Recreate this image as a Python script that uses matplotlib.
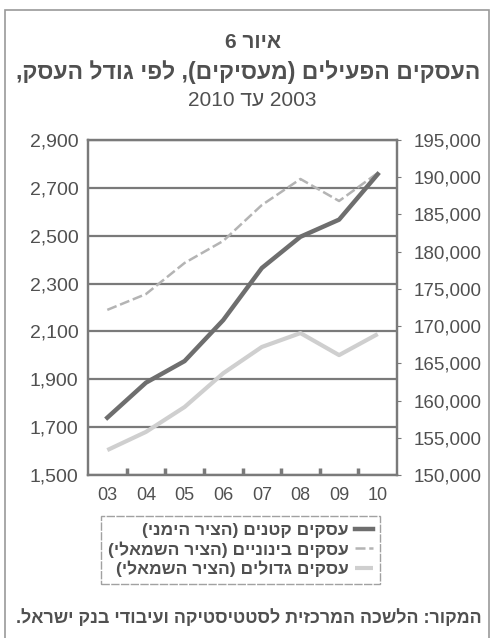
import re
import matplotlib
matplotlib.use('Agg')
import matplotlib.pyplot as plt
from matplotlib.ticker import FuncFormatter
from matplotlib.patches import Rectangle

plt.rcParams['font.family'] = ['Liberation Sans', 'DejaVu Sans']

# data
years = ['03', '04', '05', '06', '07', '08', '09', '10']
small = [157700, 162400, 165300, 170800, 177800, 182000, 184300, 190400]   # right axis
medium = [2190, 2256, 2386, 2478, 2628, 2737, 2645, 2762]                  # left axis
large = [1604, 1680, 1784, 1925, 2035, 2093, 2001, 2089]                   # left axis
left_ticks = list(range(1500, 3000, 200))
right_ticks = list(range(150000, 200000, 5000))

title1 = 'איור 6'
title2 = 'העסקים הפעילים (מעסיקים), לפי גודל העסק,'
title3 = '2003 עד 2010'
labels = ['עסקים קטנים (הציר הימני)',
          'עסקים בינוניים (הציר השמאלי)',
          'עסקים גדולים (הציר השמאלי)']
source = 'המקור: הלשכה המרכזית לסטטיסטיקה ועיבודי בנק ישראל.'


def heb(s):
    # matplotlib has no bidi, so turn logical order into visual order
    t = s[::-1].translate(str.maketrans('()', ')('))
    return re.sub(r'\d+', lambda m: m.group(0)[::-1], t)


txt = '#505050'
grid = '#7a7a7a'

fig = plt.figure(figsize=(4.91, 6.38), dpi=100)
ax = fig.add_axes([0.1792, 0.2555, 0.6294, 0.5251])
ax2 = ax.twinx()

x = list(range(len(years)))
ax.plot(x, large, color='#cfcfcf', lw=3, solid_capstyle='butt', label=heb(labels[2]))
ax.plot(x, medium, color='#b4b4b4', lw=1.8, ls=(0, (4, 1.5)), label=heb(labels[1]))
ax2.plot(x, small, color='#6e6e6e', lw=3.2, label=heb(labels[0]))

ax.set_xlim(-0.5, len(years) - 0.5)
ax.set_ylim(1500, 2900)
ax2.set_ylim(150000, 195000)
ax.set_yticks(left_ticks)
ax2.set_yticks(right_ticks)
ax.yaxis.set_major_formatter(FuncFormatter(lambda v, p: f'{v:,.0f}'))
ax2.yaxis.set_major_formatter(FuncFormatter(lambda v, p: f'{v:,.0f}'))
ax.set_xticks(x)
ax.set_xticklabels(years)
ax.set_xticks([i + 0.5 for i in x[:-1]], minor=True)

ax.yaxis.grid(True, color=grid, lw=1.6)
ax.set_axisbelow(True)
for a in (ax, ax2):
    for s in a.spines.values():
        s.set_color(grid)
        s.set_linewidth(1.6)

ax.tick_params(axis='y', length=0, pad=7, labelsize=14, labelcolor=txt)
ax2.tick_params(axis='y', length=3, color=grid, pad=9, labelsize=13.5, labelcolor=txt)
ax.tick_params(axis='x', which='major', length=0, pad=9, labelsize=13, labelcolor=txt)
ax.tick_params(axis='x', which='minor', length=5, width=2.5, direction='in', color=grid)

fig.text(0.515, 0.934, heb(title1), ha='center', va='center', fontsize=15,
         fontweight='bold', color=txt)
fig.text(0.505, 0.887, heb(title2), ha='center', va='center', fontsize=16.5,
         fontweight='bold', color=txt)
fig.text(0.513, 0.843, heb(title3), ha='center', va='center', fontsize=15, color=txt)

h1, l1 = ax2.get_legend_handles_labels()
h2, l2 = ax.get_legend_handles_labels()
leg = fig.legend(h1 + h2[::-1], l1 + l2[::-1], loc='center',
                 bbox_to_anchor=(0.489, 0.138), markerfirst=False,
                 prop={'size': 12.5, 'weight': 'bold'},
                 handlelength=1.0, handletextpad=0.4, labelspacing=0.15,
                 borderpad=0.4, fancybox=False, edgecolor='#8a8a8a', labelcolor=txt)
leg.get_frame().set_linewidth(1.0)
leg.get_frame().set_linestyle((0, (6, 1)))
leg._legend_handle_box.get_children()[0].align = 'right'

fig.text(0.506, 0.031, heb(source), ha='center', va='center', fontsize=12.9,
         fontweight='bold', color=txt)

# scanned page frame
fig.patches.append(Rectangle((0.01, -0.01), 0.985, 0.995, transform=fig.transFigure,
                             fill=False, edgecolor='#9a9a9a', lw=1.2))

fig.savefig('out.png', dpi=100)
